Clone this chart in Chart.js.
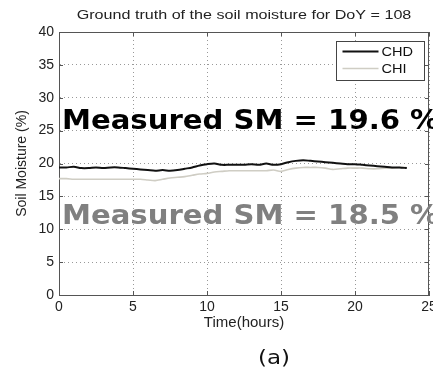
<!DOCTYPE html>
<html>
<head>
<meta charset="utf-8">
<script src="https://cdn.jsdelivr.net/npm/chart.js@4.4.0/dist/chart.umd.min.js"></script>
<style>
    html, body { margin: 0; padding: 0; background: #fff; overflow: hidden; }
    #wrap { width: 433px; height: 374px; }
</style>
</head>
<body>
<div id="wrap"><canvas id="smChart" width="433" height="374"></canvas></div>
<script>
// Time of day (hours), sampled every half hour
const hours = [0, 0.5, 1, 1.5, 2, 2.5, 3, 3.5, 4, 4.5, 5, 5.5, 6, 6.5, 7, 7.5, 8, 8.5, 9, 9.5,
    10, 10.5, 11, 11.5, 12, 12.5, 13, 13.5, 14, 14.5, 15, 15.5, 16, 16.5, 17, 17.5, 18, 18.5, 19, 19.5,
    20, 20.5, 21, 21.5, 22, 22.5, 23, 23.5];

// Soil moisture (%)
const chdValues = [19.4, 19.4, 19.5, 19.3, 19.3, 19.4, 19.3, 19.4, 19.4, 19.3, 19.2, 19.1, 19.0, 18.9, 19.0, 18.9, 19.0, 19.2, 19.4, 19.7,
    19.9, 20.0, 19.8, 19.8, 19.8, 19.8, 19.9, 19.8, 20.0, 19.8, 19.9, 20.2, 20.4, 20.5, 20.4, 20.3, 20.2, 20.1, 20.0, 19.9,
    19.9, 19.8, 19.7, 19.6, 19.5, 19.4, 19.4, 19.3];
const chiValues = [17.7, 17.7, 17.6, 17.6, 17.6, 17.6, 17.6, 17.6, 17.6, 17.6, 17.6, 17.6, 17.5, 17.4, 17.6, 17.8, 17.9, 18.0, 18.2, 18.4,
    18.5, 18.7, 18.8, 18.9, 18.9, 18.9, 18.9, 18.9, 18.9, 19.0, 18.8, 19.1, 19.3, 19.4, 19.4, 19.4, 19.3, 19.1, 19.2, 19.3,
    19.3, 19.3, 19.2, 19.2, 19.3, 19.3, 19.4, 19.4];

const seriesNames = ['CHD', 'CHI'];
const xTicks = [0, 5, 10, 15, 20, 25];
const yTicks = [0, 5, 10, 15, 20, 25, 30, 35, 40];

const chartTitle = 'Ground truth of the soil moisture for DoY = 108';
const panelLabel = '(a)';

// Big annotations: text, anchor in data units (x hours, y %)
const noteTexts = ['Measured SM = 19.6 %', 'Measured SM = 18.5 %'];
const noteX = [0.2, 0.2];
const noteY = [25.3, 10.8];

const ARIAL = '"Liberation Sans", Arial, sans-serif';
const COMIC = '"DejaVu Sans", sans-serif';

// helper: draw text stretched horizontally around its anchor
function stretchText(ctx, text, x, y, sx) {
    ctx.save();
    ctx.translate(x, y);
    ctx.scale(sx, 1);
    ctx.fillText(text, 0, 0);
    ctx.restore();
}

// MATLAB-ish box, inner ticks, legend, title and text annotations
const extrasPlugin = {
    id: 'extras',
    afterDatasetsDraw(chart) {
        const ctx = chart.ctx;
        const area = chart.chartArea;
        const xs = chart.scales.x;
        const ys = chart.scales.y;

        ctx.save();
        ctx.strokeStyle = '#555';
        ctx.lineWidth = 1;
        // top and right edges of the box
        ctx.beginPath();
        ctx.moveTo(area.left, Math.round(area.top) + 0.5);
        ctx.lineTo(area.right, Math.round(area.top) + 0.5);
        ctx.moveTo(Math.round(area.right) - 0.5, area.top);
        ctx.lineTo(Math.round(area.right) - 0.5, area.bottom);
        ctx.stroke();

        xTicks.forEach(v => {
            const px = Math.round(xs.getPixelForValue(v)) + 0.5;
            ctx.beginPath();
            ctx.moveTo(px, area.bottom); ctx.lineTo(px, area.bottom - 4);
            ctx.moveTo(px, area.top); ctx.lineTo(px, area.top + 4);
            ctx.stroke();
        });
        yTicks.forEach(v => {
            const py = Math.round(ys.getPixelForValue(v)) + 0.5;
            ctx.beginPath();
            ctx.moveTo(area.left, py); ctx.lineTo(area.left + 4, py);
            ctx.moveTo(area.right, py); ctx.lineTo(area.right - 4, py);
            ctx.stroke();
        });

        // legend box in the upper right corner
        const bx = 336.5, by = 41.5, bw = 88, bh = 39;
        ctx.fillStyle = '#fff';
        ctx.fillRect(bx, by, bw, bh);
        ctx.strokeStyle = '#444';
        ctx.strokeRect(bx, by, bw, bh);
        ctx.font = '13px ' + ARIAL;
        ctx.textBaseline = 'middle';
        ctx.textAlign = 'left';
        chart.data.datasets.forEach((ds, i) => {
            const ly = by + 10 + i * 17;
            ctx.strokeStyle = ds.borderColor;
            ctx.lineWidth = ds.borderWidth;
            ctx.beginPath();
            ctx.moveTo(bx + 6, ly); ctx.lineTo(bx + 42, ly);
            ctx.stroke();
            ctx.fillStyle = '#111';
            stretchText(ctx, ds.label, bx + 45, ly + 1, 1.12);
        });

        // title over the plot
        ctx.fillStyle = '#222';
        ctx.font = '13px ' + ARIAL;
        ctx.textAlign = 'center';
        ctx.textBaseline = 'middle';
        stretchText(ctx, chartTitle, (area.left + area.right) / 2, 15, 1.24);

        // panel label
        ctx.fillStyle = '#111';
        ctx.font = '20px ' + COMIC;
        stretchText(ctx, panelLabel, 274, 359, 1.15);

        // large annotations
        const noteColors = ['#000', '#808080'];
        ctx.font = 'bold 26px ' + COMIC;
        ctx.textAlign = 'left';
        ctx.textBaseline = 'alphabetic';
        noteTexts.forEach((t, i) => {
            ctx.fillStyle = noteColors[i];
            stretchText(ctx, t, xs.getPixelForValue(noteX[i]), ys.getPixelForValue(noteY[i]), 1.12);
        });
        ctx.restore();
    }
};

const ctx = document.getElementById('smChart').getContext('2d');
const chart = new Chart(ctx, {
    type: 'line',
    data: {
        labels: hours,
        datasets: [
            {
                label: seriesNames[0],
                data: hours.map((h, i) => ({ x: h, y: chdValues[i] })),
                borderColor: '#111',
                borderWidth: 2,
                pointRadius: 0,
                tension: 0.3
            },
            {
                label: seriesNames[1],
                data: hours.map((h, i) => ({ x: h, y: chiValues[i] })),
                borderColor: '#cfcdc4',
                borderWidth: 1.6,
                pointRadius: 0,
                tension: 0.3
            }
        ]
    },
    options: {
        responsive: false,
        animation: false,
        layout: { padding: { left: 14, right: 4, top: 32, bottom: 42 } },
        plugins: {
            legend: { display: false },
            tooltip: { enabled: false },
            title: { display: false }
        },
        scales: {
            x: {
                type: 'linear',
                min: 0,
                max: 25,
                afterBuildTicks: (scale) => { scale.ticks = xTicks.map(v => ({ value: v })); },
                afterFit: (scale) => {
                    scale.paddingLeft = 0;
                    scale.paddingRight = 0;
                    scale.height = 37;
                },
                ticks: {
                    color: '#222',
                    font: { family: ARIAL, size: 14 },
                    padding: 4,
                    maxRotation: 0
                },
                grid: {
                    color: '#999',
                    drawTicks: false
                },
                border: { display: true, color: '#555', width: 1, dash: [1, 3] },
                title: {
                    display: true,
                    text: 'Time(hours)',
                    color: '#222',
                    font: { family: ARIAL, size: 15 },
                    padding: { top: 0, bottom: 0 }
                }
            },
            y: {
                min: 0,
                max: 40,
                afterBuildTicks: (scale) => { scale.ticks = yTicks.map(v => ({ value: v })); },
                afterFit: (scale) => {
                    scale.width = 45;
                    scale.paddingTop = 0;
                    scale.paddingBottom = 0;
                },
                ticks: {
                    color: '#222',
                    font: { family: ARIAL, size: 14 },
                    padding: 5
                },
                grid: {
                    color: '#999',
                    drawTicks: false
                },
                border: { display: true, color: '#555', width: 1, dash: [1, 3] },
                title: {
                    display: true,
                    text: 'Soil Moisture (%)',
                    color: '#222',
                    font: { family: ARIAL, size: 14 },
                    padding: { top: 0, bottom: 0 }
                }
            }
        }
    },
    plugins: [extrasPlugin]
});
</script>
</body>
</html>
